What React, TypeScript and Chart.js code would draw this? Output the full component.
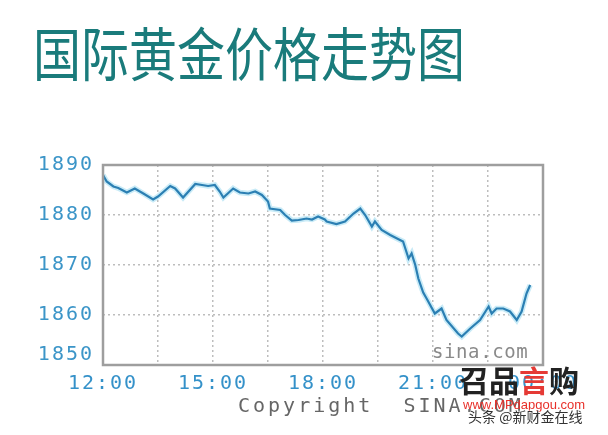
import React, { useEffect, useRef } from 'react';
import { Chart, registerables } from 'chart.js';

Chart.register(...registerables);

const TITLE = '国际黄金价格走势图';

// minutes after 12:00
const minutes = [
  0, 6, 17, 25, 39, 52, 66, 82, 90, 110, 118, 131, 151, 162, 172, 183, 191, 197,
  213, 224, 238, 249, 260, 270, 273, 290, 298, 309, 320, 333, 342, 352, 363, 366,
  382, 396, 410, 421, 429, 440, 445, 456, 470, 486, 491, 500, 505, 511, 516, 524,
  530, 543, 554, 562, 581, 587, 601, 617, 631, 636, 644, 655, 666, 677, 685, 693, 699,
];
const prices = [
  1888, 1886.7, 1885.7, 1885.4, 1884.5, 1885.3, 1884.3, 1883.1, 1883.7, 1885.8, 1885.3, 1883.5, 1886.2, 1886, 1885.8, 1886, 1884.7, 1883.5,
  1885.3, 1884.5, 1884.3, 1884.7, 1884, 1882.7, 1881.3, 1881, 1880, 1878.9, 1879, 1879.3, 1879.1, 1879.7, 1879.1, 1878.7,
  1878.2, 1878.7, 1880.3, 1881.3, 1880, 1877.7, 1878.7, 1877, 1876, 1875, 1874.7, 1871.3, 1872.3, 1870, 1867.3, 1864.5,
  1863.2, 1860.3, 1861.3, 1859, 1856.3, 1855.7, 1857.3, 1859, 1861.7, 1860.3, 1861.3, 1861.3, 1860.7, 1859, 1860.7, 1864.3, 1866,
];

const gridMinutes = [0, 90, 180, 270, 360, 450, 540, 630, 720];
const xLabelMinutes = [0, 180, 360, 540, 720];
const xLabelTexts = ['12:00', '15:00', '18:00', '21:00', '00:00'];
const yTicks = [1850, 1860, 1870, 1880, 1890];

const COPYRIGHT = 'Copyright  SINA.COM';
const SINA = 'sina.com';

export default function App() {
  const ref = useRef<HTMLCanvasElement>(null);

  useEffect(() => {
    if (!ref.current) return;
    const points = minutes.map((m, i) => ({ x: m, y: prices[i] }));
    const tickFont = { family: '"DejaVu Sans Mono", monospace', size: 20 };
    const chart = new Chart(ref.current, {
      type: 'line',
      data: {
        datasets: [
          { data: points, borderColor: '#2b7fb3', borderWidth: 2.2, pointRadius: 0, tension: 0, order: 1 },
          { data: points, borderColor: '#c9ebf7', borderWidth: 5.5, pointRadius: 0, tension: 0, order: 2 },
        ],
      },
      options: {
        responsive: false,
        animation: false,
        layout: { padding: { left: 0, top: 165, right: 65, bottom: 0 } },
        plugins: { legend: { display: false }, tooltip: { enabled: false }, title: { display: false } },
        scales: {
          x: {
            type: 'linear',
            min: 0,
            max: 720,
            afterBuildTicks: (s: any) => {
              s.ticks = gridMinutes.map((v) => ({ value: v }));
            },
            afterFit: (s: any) => {
              s.height = 70;
            },
            ticks: {
              autoSkip: false,
              maxRotation: 0,
              padding: 7,
              color: '#3491c9',
              font: tickFont,
              callback: (v: any) => {
                const i = xLabelMinutes.indexOf(Number(v));
                return i >= 0 ? xLabelTexts[i] : '';
              },
            },
            grid: { color: '#bdbdbd', lineWidth: 1.5, drawTicks: false },
            border: { display: false, dash: [2, 3] },
          },
          y: {
            type: 'linear',
            min: 1850,
            max: 1890,
            afterBuildTicks: (s: any) => {
              s.ticks = yTicks.map((v) => ({ value: v }));
            },
            afterFit: (s: any) => {
              s.width = 103;
            },
            ticks: {
              padding: 9,
              color: '#3b95c8',
              font: { ...tickFont, lineHeight: 1.0 },
              callback: (v: any) => (Number(v) === yTicks[0] ? [String(v), ''] : String(v)),
            },
            grid: { color: '#bdbdbd', lineWidth: 1.5, drawTicks: false },
            border: { display: false, dash: [2, 3] },
          },
        },
      },
      plugins: [
        {
          id: 'spacing',
          beforeDraw(c: any) {
            c.ctx.letterSpacing = '2px';
          },
          afterDraw(c: any) {
            const { ctx, chartArea } = c;
            ctx.letterSpacing = '0px';
            ctx.save();
            ctx.strokeStyle = '#9e9e9e';
            ctx.lineWidth = 2.5;
            ctx.strokeRect(chartArea.left, chartArea.top, chartArea.right - chartArea.left, chartArea.bottom - chartArea.top);
            ctx.restore();
          },
        },
      ],
    } as any);
    return () => chart.destroy();
  }, []);

  return (
    <div style={{ position: 'fixed', left: 0, top: 0, width: 608, height: 435, background: '#fff', overflow: 'hidden' }}>
      <div
        style={{
          position: 'absolute',
          left: 33,
          top: 15,
          fontFamily: '"Noto Sans CJK SC", sans-serif',
          fontSize: 48,
          lineHeight: '60px',
          color: '#1a7b7b',
          whiteSpace: 'nowrap',
          transform: 'scaleY(1.2)',
          transformOrigin: 'top left',
        }}
      >
        {TITLE}
      </div>
      <canvas ref={ref} width={608} height={435} style={{ position: 'absolute', left: 0, top: 0, display: 'block' }} />
      <div
        style={{
          position: 'absolute',
          left: 432,
          top: 340,
          fontFamily: '"DejaVu Sans Mono", monospace',
          fontSize: 19,
          letterSpacing: '0.6px',
          color: '#8a8a8a',
          whiteSpace: 'pre',
        }}
      >
        {SINA}
      </div>
      <div
        style={{
          position: 'absolute',
          left: 238,
          top: 393,
          fontFamily: '"DejaVu Sans Mono", monospace',
          fontSize: 20,
          letterSpacing: '3px',
          color: '#666',
          whiteSpace: 'pre',
        }}
      >
        {COPYRIGHT}
      </div>
      <div
        style={{
          position: 'absolute',
          left: 459,
          top: 361,
          fontFamily: '"Noto Sans CJK SC", sans-serif',
          fontSize: 30,
          fontWeight: 700,
          lineHeight: '36px',
          color: '#222',
          whiteSpace: 'nowrap',
        }}
      >
        召品<span style={{ color: '#e53a35' }}>言</span>购
      </div>
      <div
        style={{
          position: 'absolute',
          left: 463,
          top: 397,
          fontFamily: '"Liberation Sans", sans-serif',
          fontSize: 13,
          color: '#e8302a',
          whiteSpace: 'nowrap',
        }}
      >
        www.MPdapgou.com
      </div>
      <div
        style={{
          position: 'absolute',
          left: 468,
          top: 406,
          fontFamily: '"Noto Sans CJK SC", sans-serif',
          fontSize: 14,
          color: '#333',
          whiteSpace: 'nowrap',
          textShadow: '0 0 2px #fff, 0 0 2px #fff, 0 0 2px #fff',
        }}
      >
        头条 @新财金在线
      </div>
    </div>
  );
}
